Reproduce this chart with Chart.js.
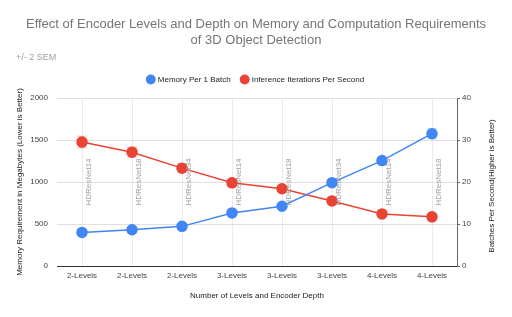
<!DOCTYPE html>
<html>
<head>
<meta charset="utf-8">
<script src="https://cdn.jsdelivr.net/npm/chart.js@4"></script>
<style>
  html, body { margin: 0; padding: 0; background: #fff; }
  #wrap { width: 512px; height: 317px; }
</style>
</head>
<body>
<div id="wrap"><canvas id="chart"></canvas></div>
<script>
// values
const levels = ['2-Levels', '2-Levels', '2-Levels', '3-Levels', '3-Levels', '3-Levels', '4-Levels', '4-Levels'];
const encoders = ['HDResNet14', 'HDResNet18', 'HDResNet34', 'HDResNet14', 'HDResNet18', 'HDResNet34', 'HDResNet14', 'HDResNet18'];
const memory = [400, 432, 472, 632, 712, 992, 1255, 1575];
const memoryErr = [10, 10, 10, 12, 12, 15, 35, 60];
const itersPerSec = [29.5, 27.1, 23.3, 19.8, 18.4, 15.5, 12.4, 11.7];
const itersErr = [1.4, 1.2, 1.0, 0.9, 0.6, 0.5, 0.4, 0.4];
const memTicks = [0, 500, 1000, 1500, 2000];
const fpsTicks = [0, 10, 20, 30, 40];

const FONT = 'Arial, "Liberation Sans", sans-serif';
const SUBTITLE = '+/- 2 SEM';
const RIGHT_TITLE = 'Batches Per Second(Higher is Better)';

// error bars (+/- 2 SEM) drawn through the dataset's own y scale
const errorBars = {
  id: 'errorBars',
  beforeDatasetsDraw(chart) {
    const { ctx } = chart;
    const x = chart.scales.x;
    const sets = [
      { vals: memory, errs: memoryErr, scale: chart.scales.yMem, color: 'rgba(66,133,244,0.35)' },
      { vals: itersPerSec, errs: itersErr, scale: chart.scales.yFps, color: 'rgba(234,67,53,0.35)' }
    ];
    ctx.save();
    ctx.lineWidth = 1;
    sets.forEach(s => {
      ctx.strokeStyle = s.color;
      s.vals.forEach((v, i) => {
        const px = x.getPixelForValue(i);
        const top = s.scale.getPixelForValue(v + s.errs[i]);
        const bot = s.scale.getPixelForValue(v - s.errs[i]);
        ctx.beginPath();
        ctx.moveTo(px, top); ctx.lineTo(px, bot);
        ctx.moveTo(px - 5, top); ctx.lineTo(px + 5, top);
        ctx.moveTo(px - 5, bot); ctx.lineTo(px + 5, bot);
        ctx.stroke();
      });
    });
    ctx.restore();
  }
};

// vertical encoder labels next to each category
const encoderLabels = {
  id: 'encoderLabels',
  afterDatasetsDraw(chart) {
    const { ctx } = chart;
    const x = chart.scales.x;
    const cy = chart.scales.yMem.getPixelForValue(1000);
    ctx.save();
    ctx.font = '8px ' + FONT;
    ctx.fillStyle = '#a0a0a0';
    ctx.textAlign = 'center';
    ctx.textBaseline = 'middle';
    encoders.forEach((name, i) => {
      ctx.save();
      ctx.translate(x.getPixelForValue(i) + 7, cy);
      ctx.rotate(-Math.PI / 2);
      ctx.fillText(name, 0, 0);
      ctx.restore();
    });
    ctx.restore();
  }
};

// subtitle at the left margin and right axis title reading upwards
const extraText = {
  id: 'extraText',
  beforeInit(chart) {
    // a bit more room between the legend and the plot
    const fit = chart.legend.fit;
    chart.legend.fit = function () {
      fit.call(this);
      this.height += 4.5;
    };
  },
  afterDraw(chart) {
    const { ctx } = chart;
    const r = chart.scales.yFps;
    ctx.save();
    ctx.font = '9px ' + FONT;
    ctx.fillStyle = '#9e9e9e';
    ctx.textAlign = 'left';
    ctx.textBaseline = 'middle';
    ctx.fillText(SUBTITLE, 16, 58);

    ctx.font = '8px ' + FONT;
    ctx.fillStyle = '#222';
    ctx.textAlign = 'center';
    ctx.translate(r.right - 20, (r.top + r.bottom) / 2 + 4);
    ctx.rotate(-Math.PI / 2);
    ctx.fillText(RIGHT_TITLE, 0, 0);
    ctx.restore();
  }
};

new Chart(document.getElementById('chart'), {
  type: 'line',
  data: {
    labels: levels,
    datasets: [
      {
        label: 'Memory Per 1 Batch',
        data: memory,
        yAxisID: 'yMem',
        borderColor: '#4285f4',
        backgroundColor: '#4285f4',
        borderWidth: 1.5,
        pointRadius: 5,
        pointHoverRadius: 5,
        tension: 0
      },
      {
        label: 'Inference Iterations Per Second',
        data: itersPerSec,
        yAxisID: 'yFps',
        borderColor: '#ea4335',
        backgroundColor: '#ea4335',
        borderWidth: 1.5,
        pointRadius: 5,
        pointHoverRadius: 5,
        tension: 0
      }
    ]
  },
  options: {
    responsive: true,
    maintainAspectRatio: false,
    animation: false,
    layout: { padding: 0 },
    plugins: {
      title: {
        display: true,
        text: ['Effect of Encoder Levels and Depth on Memory and Computation Requirements', 'of 3D Object Detection'],
        color: '#757575',
        font: { family: FONT, size: 13, weight: 'normal', lineHeight: 1.25 },
        padding: { top: 16, bottom: 4 }
      },
      subtitle: {
        // keeps the room; the text itself is drawn by extraText
        display: true,
        text: SUBTITLE,
        color: 'rgba(0,0,0,0)',
        font: { family: FONT, size: 10, weight: 'normal' },
        padding: { top: 0, bottom: 0 }
      },
      legend: {
        position: 'top',
        labels: {
          usePointStyle: true,
          pointStyle: 'circle',
          boxWidth: 6,
          boxHeight: 6,
          padding: 11,
          color: '#222',
          font: { family: FONT, size: 8 }
        }
      },
      tooltip: { enabled: false }
    },
    scales: {
      x: {
        offset: true,
        grid: { color: '#ebebeb', offset: false, drawTicks: false },
        border: { display: true, color: '#333', width: 1 },
        ticks: { color: '#444', font: { family: FONT, size: 8 }, padding: 5, maxRotation: 0, autoSkip: false },
        title: {
          display: true,
          text: 'Number of Levels and Encoder Depth',
          color: '#222',
          font: { family: FONT, size: 8 },
          padding: { top: 0, bottom: 16 }
        },
        afterFit(s) { s.height = 51; }
      },
      yMem: {
        position: 'left',
        min: 0,
        max: 2000,
        afterBuildTicks(s) { s.ticks = memTicks.map(v => ({ value: v })); },
        grid: { color: '#e0e0e0', drawTicks: false },
        border: { display: false },
        ticks: { color: '#444', font: { family: FONT, size: 8 }, padding: 9, callback: v => String(v) },
        title: {
          display: true,
          text: 'Memory Requirement in Megabytes (Lower is Better)',
          color: '#222',
          font: { family: FONT, size: 8 },
          padding: { top: 15, bottom: 0 }
        },
        afterFit(s) { s.width = 57; }
      },
      yFps: {
        position: 'right',
        min: 0,
        max: 40,
        afterBuildTicks(s) { s.ticks = fpsTicks.map(v => ({ value: v })); },
        grid: { drawOnChartArea: false, drawTicks: true, tickLength: 3, color: '#666' },
        border: { display: true, color: '#666', width: 1 },
        ticks: { color: '#444', font: { family: FONT, size: 8 }, padding: 2, callback: v => String(v) },
        title: { display: false },
        afterFit(s) { s.width = 55; }
      }
    }
  },
  plugins: [errorBars, encoderLabels, extraText]
});
</script>
</body>
</html>
